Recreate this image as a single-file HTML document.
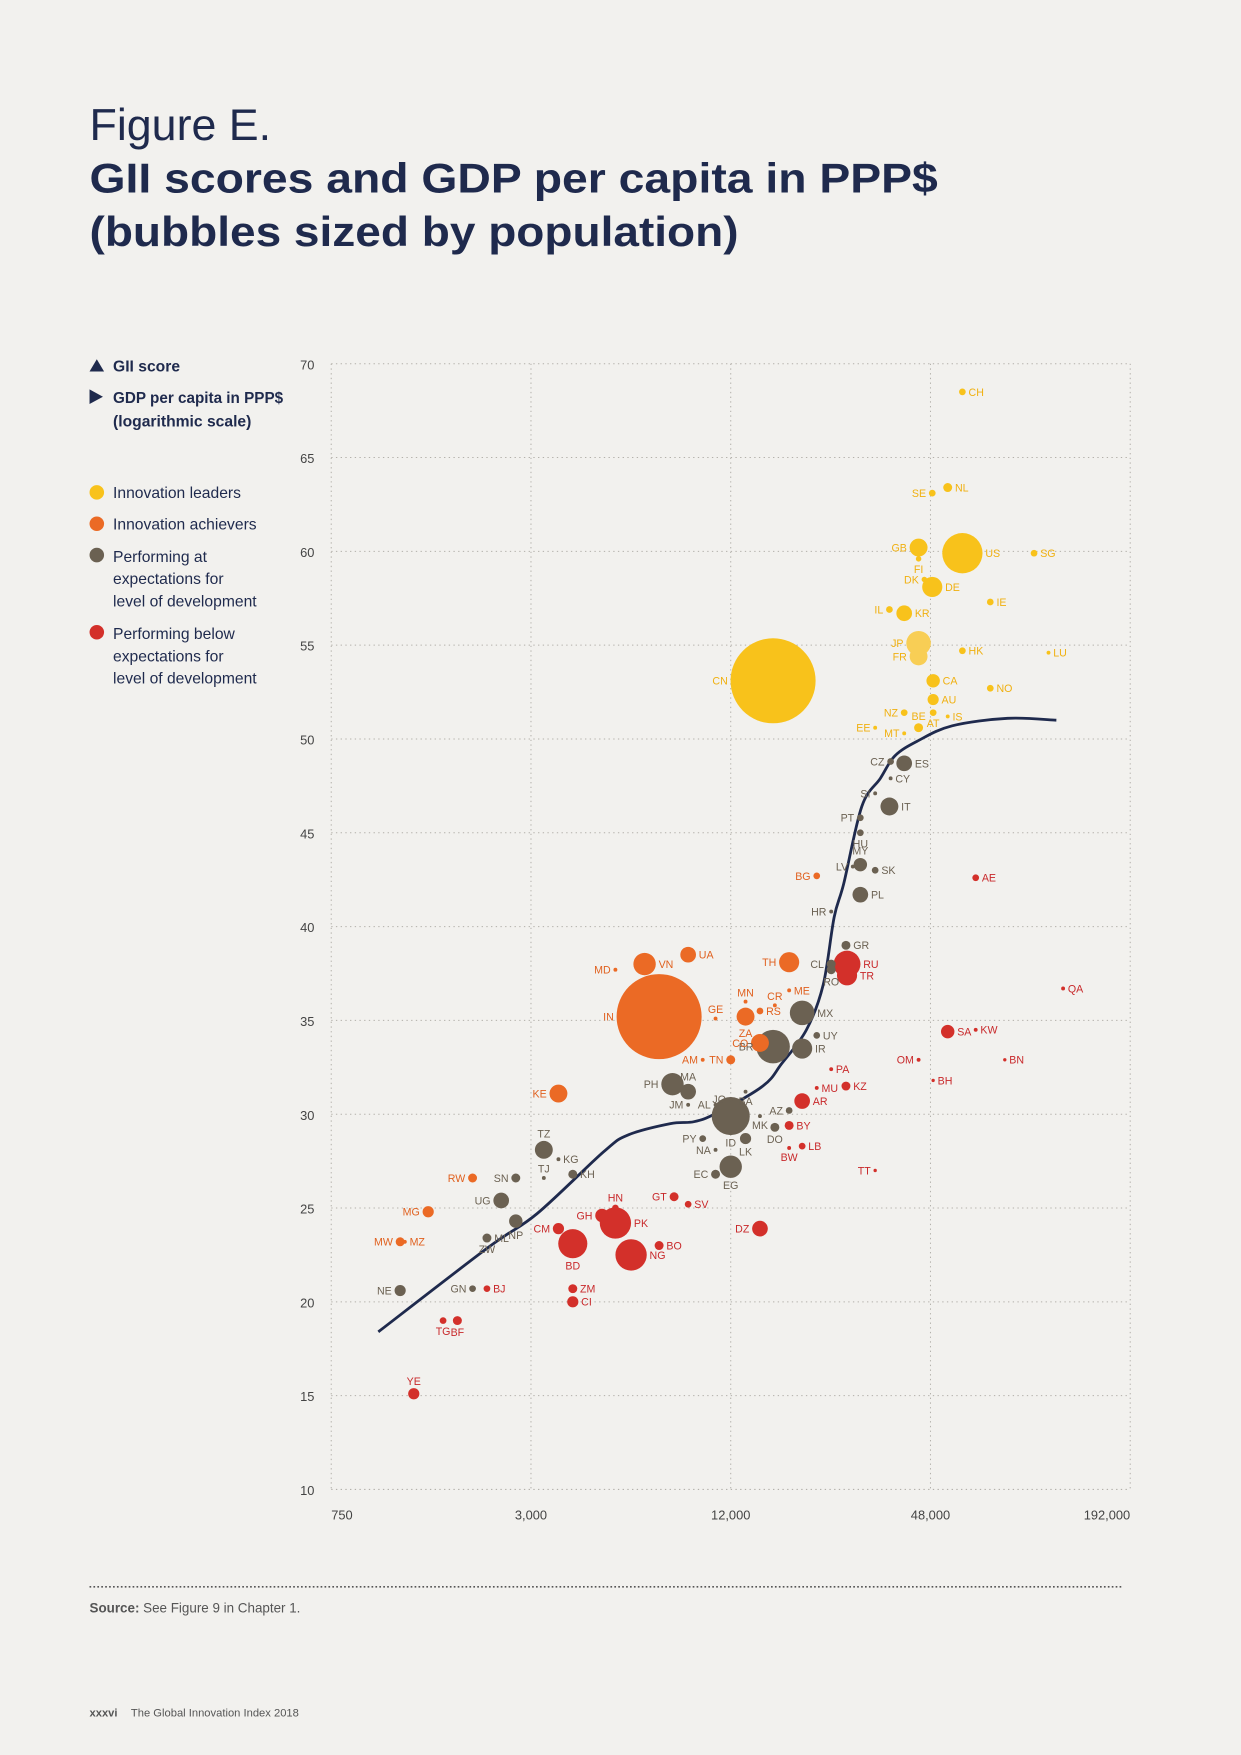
<!DOCTYPE html>
<html><head><meta charset="utf-8"><style>
html,body{margin:0;padding:0;background:#F2F1EE;}
svg{display:block;font-family:"Liberation Sans",sans-serif;}
</style></head><body>
<svg id="chart" width="1241" height="1755" viewBox="0 0 1109 1568.3" xmlns="http://www.w3.org/2000/svg">
<rect x="0" y="0" width="1109" height="1568.3" fill="#F2F1EE"/>
<text x="80" y="125" font-size="40" fill="#1f2a4d" font-weight="300">Figure E.</text>
<text x="80" y="172" font-size="37" fill="#1f2a4d" font-weight="bold" textLength="758" lengthAdjust="spacingAndGlyphs">GII scores and GDP per capita in PPP$</text>
<text x="80" y="220" font-size="37" fill="#1f2a4d" font-weight="bold" textLength="580" lengthAdjust="spacingAndGlyphs">(bubbles sized by population)</text>
<g font-size="14" fill="#1f2a4d">
<polygon points="80,332 93,332 86.5,321" fill="#1f2a4d"/>
<text x="101" y="332" font-weight="bold">GII score</text>
<polygon points="80,348 80,361 92,354.5" fill="#1f2a4d"/>
<text x="101" y="360" font-weight="bold" textLength="152" lengthAdjust="spacingAndGlyphs">GDP per capita in PPP$</text>
<text x="101" y="381" font-weight="bold">(logarithmic scale)</text>
<circle cx="86.5" cy="440" r="6.5" fill="#F8C21B"/>
<text x="101" y="445">Innovation leaders</text>
<circle cx="86.5" cy="468" r="6.5" fill="#EB6A25"/>
<text x="101" y="473">Innovation achievers</text>
<circle cx="86.5" cy="496" r="6.5" fill="#6B6152"/>
<text x="101" y="502"><tspan x="101">Performing at</tspan><tspan x="101" dy="20">expectations for</tspan><tspan x="101" dy="20">level of development</tspan></text>
<circle cx="86.5" cy="565" r="6.5" fill="#D3302A"/>
<text x="101" y="571"><tspan x="101">Performing below</tspan><tspan x="101" dy="20">expectations for</tspan><tspan x="101" dy="20">level of development</tspan></text>
</g>
<g id="grid"></g>
<g id="axes"></g>
<path id="curve" fill="none" stroke="#1f2a4d" stroke-width="2.5"/>
<g id="bubbles"></g>
<line x1="80" y1="1418" x2="1003" y2="1418" stroke="#555" stroke-width="1.5" stroke-dasharray="1.5,2"/>
<text x="80" y="1441" font-size="12" fill="#555"><tspan font-weight="bold">Source:</tspan> See Figure 9 in Chapter 1.</text>
<text x="80" y="1534" font-size="10" fill="#555"><tspan font-weight="bold">xxxvi</tspan><tspan x="117">The Global Innovation Index 2018</tspan></text>
</svg>
<script>
const xTicks=[750,3000,12000,48000,192000];
const xTickLabels=["750","3,000","12,000","48,000","192,000"];
const yTicks=[10,15,20,25,30,35,40,45,50,55,60,65,70];
const codes=["CH","NL","SE","GB","FI","US","SG","DK","DE","IE","IL","KR","JP","FR","HK","LU","CN","CA","NO","AU","NZ","AT","BE","IS","EE","MT",
"CZ","ES","CY","SI","IT","PT","HU","LV","MY","SK","PL","HR","GR","CL","RO","MX","UY","BR","IR","MA","PH","BA","JO","JM","AL","ID","AZ","MK","DO","PY","NA","LK","EC","EG","TZ","KG","TJ","KH","SN","UG","NP","ML","ZW","GN","NE",
"BG","TH","ME","MN","CR","GE","RS","ZA","CO","VN","UA","MD","IN","AM","TN","KE","RW","MG","MW","MZ",
"AE","RU","TR","QA","SA","KW","OM","BN","PA","BH","MU","KZ","AR","BY","LB","BW","TT","GT","SV","HN","GH","PK","CM","BD","BO","NG","DZ","ZM","CI","BJ","TG","BF","YE"];
const gdp=[59900,54100,48600,44200,44200,59900,98500,46000,48600,72700,36100,40000,44200,44200,59900,108900,16100,48900,72700,48900,40000,48900,44200,54100,32700,40000,
36400,40000,36400,32700,36100,29500,29500,28000,29500,32700,29500,24100,26700,24100,24100,19700,21800,16100,19700,8930,8010,13300,12000,8930,10800,12000,18000,14700,16300,9880,10800,13300,10800,12000,3280,3630,3280,4010,2700,2440,2700,2210,2210,2000,1210,
21800,18000,18000,13300,16300,10800,14700,13300,14700,6600,8930,5390,7300,9880,12000,3630,2000,1470,1210,1250,
65700,26900,26900,120500,54100,65700,44200,80400,24100,48900,21800,26700,19700,18000,19700,18000,32700,8100,8930,5390,4910,5390,3630,4010,7300,6010,14700,4010,4010,2210,1630,1800,1330];
const gii=[68.5,63.4,63.1,60.2,59.6,59.9,59.9,58.5,58.1,57.3,56.9,56.7,55.1,54.4,54.7,54.6,53.1,53.1,52.7,52.1,51.4,51.4,50.6,51.2,50.6,50.3,
48.8,48.7,47.9,47.1,46.4,45.8,45.0,43.2,43.3,43.0,41.7,40.8,39.0,38.0,37.7,35.4,34.2,33.6,33.5,31.2,31.6,31.2,30.8,30.5,30.5,29.9,30.2,29.9,29.3,28.7,28.1,28.7,26.8,27.2,28.1,27.6,26.6,26.8,26.6,25.4,24.3,23.4,23.3,20.7,20.6,
42.7,38.1,36.6,36.0,35.8,35.1,35.5,35.2,33.8,38.0,38.5,37.7,35.2,32.9,32.9,31.1,26.6,24.8,23.2,23.2,
42.6,38.0,37.4,36.7,34.4,34.5,32.9,32.9,32.4,31.8,31.4,31.5,30.7,29.4,28.3,28.2,27.0,25.6,25.2,25.0,24.6,24.2,23.9,23.1,23.0,22.5,23.9,20.7,20.0,20.7,19.0,19.0,15.1];
const pop=[9,16,9,64,6,324,9,6,81,9,9,49,121,64,9,3,1444,36,9,25,9,9,16,3,3,3,
9,49,3,3,64,9,9,3,36,9,49,3,16,16,16,121,9,225,81,49,100,3,3,3,3,289,9,3,16,9,3,25,16,100,64,3,3,16,16,49,36,16,3,9,25,
9,81,3,3,3,3,9,64,64,100,49,3,1444,3,16,64,16,25,16,3,
9,144,81,3,36,3,3,1,3,1,3,16,49,16,9,3,1,16,9,9,36,196,25,169,16,196,49,16,25,9,9,16,25];
const groups=["L","L","L","L","L","L","L","L","L","L","L","L","L","L","L","L","L","L","L","L","L","L","L","L","L","L",
"E","E","E","E","E","E","E","E","E","E","E","E","E","E","E","E","E","E","E","E","E","E","E","E","E","E","E","E","E","E","E","E","E","E","E","E","E","E","E","E","E","E","E","E","E",
"A","A","A","A","A","A","A","A","A","A","A","A","A","A","A","A","A","A","A","A",
"B","B","B","B","B","B","B","B","B","B","B","B","B","B","B","B","B","B","B","B","B","B","B","B","B","B","B","B","B","B","B","B","B"];
const labelSide=["r","r","l","l","b","r","r","l","r","r","l","r","l","l","r","r","l","r","r","r","l","b","a","r","l","l",
"l","r","r","l","r","l","b","l","a","r","r","l","r","l","b","r","r","l","r","a","l","b","l","l","l","b","l","b","b","l","l","b","l","b","a","r","a","r","l","l","b","r","b","l","l",
"l","l","r","a","a","a","r","b","l","r","r","l","l","l","l","l","l","l","l","r",
"r","r","r","r","r","r","l","r","r","r","r","r","r","r","r","b","l","l","r","a","l","r","l","b","r","r","l","r","r","r","b","b","a"];
const curveGdp=[1040,2230,3130,4970,5900,7900,9300,10850,15000,17100,20300,22800,24600,26300,29800,33900,37500,44000,55800,82000,115000];
const curveGii=[18.4,22.9,24.7,28.0,28.9,29.5,29.6,30.05,31.5,32.7,34.5,36.9,40.5,42.3,46.4,47.9,49.1,49.9,50.7,51.1,51.0];

const NS="http://www.w3.org/2000/svg";
const X0=296,X1=1010,Y0=1331,Y1=325;
function xs(v){return X0+(Math.log2(v/750))/8*(X1-X0);}
function ys(v){return Y0-(v-10)/60*(Y0-Y1);}
const colors={L:"#F8C21B",A:"#EB6A25",E:"#6B6152",B:"#D3302A"};
const lcolors={L:"#F0B010",A:"#E0601E",E:"#6B6152",B:"#C8282A"};
function mk(tag,attrs,parent){const e=document.createElementNS(NS,tag);for(const k in attrs)e.setAttribute(k,attrs[k]);parent.appendChild(e);return e;}
const grid=document.getElementById('grid'),axes=document.getElementById('axes');
yTicks.forEach((t,i)=>{
 const l=mk('line',{x1:X0,x2:X1,y1:ys(t),y2:ys(t),stroke:"#b3b0aa","stroke-width":0.9,"stroke-dasharray":"1.2,3"},grid);
 
 
 const tx=mk('text',{x:281,y:ys(t)+5,"text-anchor":"end","font-size":11.5,fill:"#444"},axes);
 
 
 tx.textContent=String(t);
});
xTicks.forEach((t,i)=>{
 const l=mk('line',{x1:xs(t),x2:xs(t),y1:Y1,y2:Y0,stroke:"#b3b0aa","stroke-width":0.9,"stroke-dasharray":"1.2,3"},grid);
 
 
 const anchor=i===0?"start":(i===xTicks.length-1?"end":"middle");
 const tx=mk('text',{x:xs(t),y:1358,"text-anchor":anchor,"font-size":11.5,fill:"#444"},axes);
 
 
 tx.textContent=xTickLabels[i];
});
const pts=curveGdp.map((g,i)=>[xs(g),ys(curveGii[i])]);
let d="M"+pts[0][0]+","+pts[0][1];
for(let i=0;i<pts.length-1;i++){
 const p0=pts[Math.max(0,i-1)],p1=pts[i],p2=pts[i+1],p3=pts[Math.min(pts.length-1,i+2)];
 const c1=[p1[0]+(p2[0]-p0[0])/6,p1[1]+(p2[1]-p0[1])/6],c2=[p2[0]-(p3[0]-p1[0])/6,p2[1]-(p3[1]-p1[1])/6];
 d+=" C"+c1[0]+","+c1[1]+" "+c2[0]+","+c2[1]+" "+p2[0]+","+p2[1];
}
document.getElementById('curve').setAttribute('d',d);
const bub=document.getElementById('bubbles');
const order=codes.map((c,i)=>i).sort((a,b)=>pop[b]-pop[a]);
order.forEach(i=>{
 const r=Math.max(1.5,Math.sqrt(pop[i])*1.0);
 const cx=xs(gdp[i]),cy=ys(gii[i]);
 let fill=colors[groups[i]];
 if(codes[i]==="JP"||codes[i]==="FR")fill="#F8CE55";
 const c=mk('circle',{cx:cx,cy:cy,r:r,fill:fill},bub);
 
 
});
codes.forEach((code,i)=>{
 const r=Math.max(1.5,Math.sqrt(pop[i]));
 const cx=xs(gdp[i]),cy=ys(gii[i]);
 const s=labelSide[i];let x=cx,y=cy+3.5,a="start";
 if(s==="r"){x=cx+r+2.5;}else if(s==="l"){x=cx-r-2.5;a="end";}
 else if(s==="a"){y=cy-r-3;a="middle";}else{y=cy+r+10;a="middle";}
 const t=mk('text',{x:x,y:y,"text-anchor":a,"font-size":9.5,fill:lcolors[groups[i]]},bub);
 
 
 t.textContent=code;
});
</script>
</body></html>
